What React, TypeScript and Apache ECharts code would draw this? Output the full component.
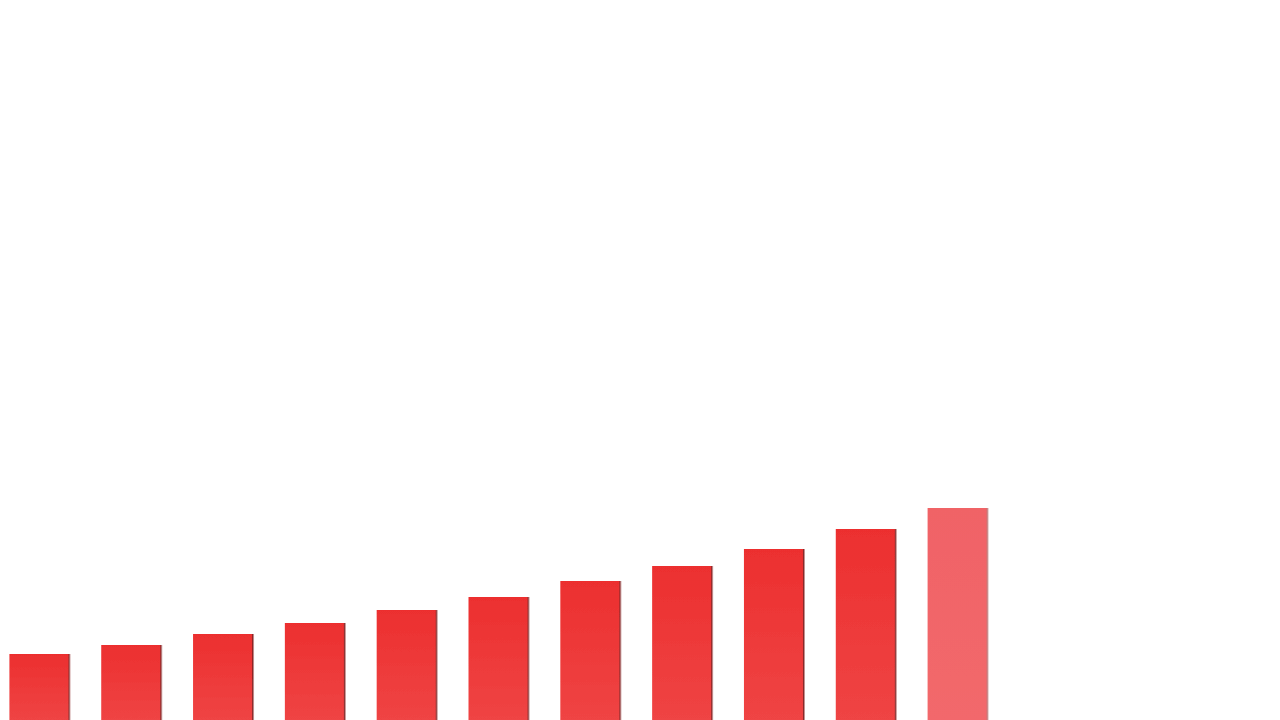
import React, { useEffect, useRef } from "react";
import * as echarts from "echarts";

const categories = ["1", "2", "3", "4", "5", "6", "7", "8", "9", "10", "11"];
const values = [66, 75, 86, 97, 110, 123, 139, 154, 171, 191, 212];
const highlightIndex = 10;

export default function App() {
  const ref = useRef<HTMLDivElement>(null);
  useEffect(() => {
    if (!ref.current) return;
    const chart = echarts.init(ref.current, undefined, { renderer: "svg" });
    const mainColor = new echarts.graphic.LinearGradient(0, 0, 0, 1, [
      { offset: 0, color: "#EC2F2F" },
      { offset: 1, color: "#EF4444" },
    ]);
    const lastColor = new echarts.graphic.LinearGradient(0, 0, 0, 1, [
      { offset: 0, color: "#F06366" },
      { offset: 1, color: "#F2686C" },
    ]);
    chart.setOption({
      animation: false,
      backgroundColor: "#ffffff",
      grid: { left: 0, top: 0, width: 1010, height: 720 },
      xAxis: {
        type: "category",
        data: categories,
        show: false,
      },
      yAxis: { type: "value", min: 0, max: 720, show: false },
      series: [
        {
          type: "bar",
          barWidth: 59,
          data: values.map((v, i) => ({
            value: v,
            itemStyle: {
              color: i === highlightIndex ? lastColor : mainColor,
              shadowColor: i === highlightIndex ? "rgba(160,50,50,0.7)" : "rgba(120,10,10,0.9)",
              shadowOffsetX: 1.5,
              shadowOffsetY: 0,
              shadowBlur: 0,
            },
          })),
        },
      ],
    });
    return () => chart.dispose();
  }, []);
  return (
    <div
      ref={ref}
      style={{ position: "fixed", left: -7, top: 0, width: 1287, height: 720 }}
    />
  );
}
